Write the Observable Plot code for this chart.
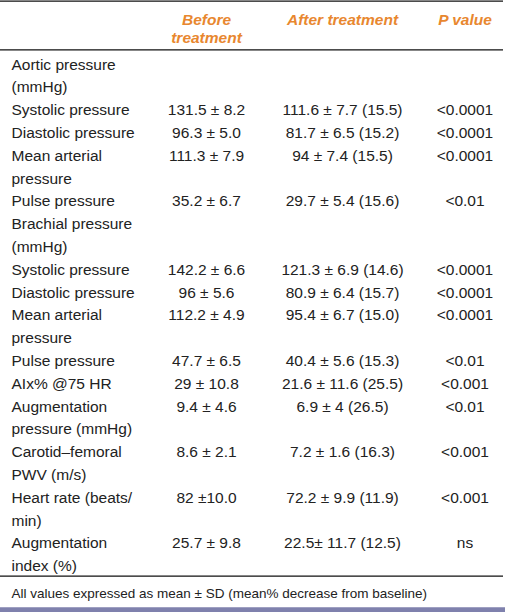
<!DOCTYPE html>
<html><head><meta charset="utf-8">
<script src="https://cdn.jsdelivr.net/npm/d3@7"></script>
<script src="https://cdn.jsdelivr.net/npm/@observablehq/plot@0.6"></script>
<style>html,body{margin:0;padding:0;background:#fff}</style>
</head><body><div id="chart"></div>
<script>
// ---- data ----
const headers = ["Before\ntreatment", "After treatment", "P value"];
const rowLabels = [
  "Aortic pressure\n(mmHg)",
  "Systolic pressure",
  "Diastolic pressure",
  "Mean arterial\npressure",
  "Pulse pressure",
  "Brachial pressure\n(mmHg)",
  "Systolic pressure",
  "Diastolic pressure",
  "Mean arterial\npressure",
  "Pulse pressure",
  "AIx% @75 HR",
  "Augmentation\npressure (mmHg)",
  "Carotid\u2013femoral\nPWV (m/s)",
  "Heart rate (beats/\nmin)",
  "Augmentation\nindex (%)"
];
const beforeValues = ["", "131.5 ± 8.2", "96.3 ± 5.0", "111.3 ± 7.9", "35.2 ± 6.7", "", "142.2 ± 6.6", "96 ± 5.6", "112.2 ± 4.9", "47.7 ± 6.5", "29 ± 10.8", "9.4 ± 4.6", "8.6 ± 2.1", "82 ±10.0", "25.7 ± 9.8"];
const afterValues = ["", "111.6 ± 7.7 (15.5)", "81.7 ± 6.5 (15.2)", "94 ± 7.4 (15.5)", "29.7 ± 5.4 (15.6)", "", "121.3 ± 6.9 (14.6)", "80.9 ± 6.4 (15.7)", "95.4 ± 6.7 (15.0)", "40.4 ± 5.6 (15.3)", "21.6 ± 11.6 (25.5)", "6.9 ± 4 (26.5)", "7.2 ± 1.6 (16.3)", "72.2 ± 9.9 (11.9)", "22.5± 11.7 (12.5)"];
const pValues = ["", "<0.0001", "<0.0001", "<0.0001", "<0.01", "", "<0.0001", "<0.0001", "<0.0001", "<0.01", "<0.001", "<0.01", "<0.001", "<0.001", "ns"];
const footnote = "All values expressed as mean ± SD (mean% decrease from baseline)";

// ---- layout (line units on the y scale, pixels on x) ----
const FONT = "'Liberation Sans', Arial, sans-serif";
const INK = "#222";
const ORANGE = "#e8872f";
const PURPLE = "#7f81ad";
const colX = {label: 11, before: 206, after: 342, p: 464.5};
const headerLines = [-1.952, -1.154];
const ruleTop = -3.0, ruleHead = -0.864, ruleBottom = 22.224;
const footLine = 23.158, barLine = 23.706;

// ---- build table cells ----
const labelCells = [];
const valueCells = [];
let line = 0;
rowLabels.forEach((lab, i) => {
  const parts = lab.split("\n");
  parts.forEach((t, k) => labelCells.push({line: line + k, text: t}));
  valueCells.push({line, col: "before", text: beforeValues[i]});
  valueCells.push({line, col: "after", text: afterValues[i]});
  valueCells.push({line, col: "p", text: pValues[i]});
  line += parts.length;
});
const headerCells = [];
["before", "after", "p"].forEach((c, i) => {
  headers[i].split("\n").forEach((t, k) => headerCells.push({col: c, y: headerLines[k], text: t}));
});

const chart = Plot.plot({
  width: 505,
  height: 612,
  margin: 0,
  style: {background: "#fff", fontFamily: FONT},
  x: {domain: [0, 505], range: [0, 505], axis: null},
  y: {domain: [0, 22], range: [69, 570.6], axis: null},
  marks: [
    Plot.ruleY([ruleTop, ruleHead, ruleBottom], {x1: 0, x2: 503, stroke: "#111", strokeWidth: 1.2}),
    Plot.ruleY([barLine], {stroke: PURPLE, strokeWidth: 5.5}),
    Plot.text(headerCells, {
      x: d => colX[d.col], y: "y", text: "text", lineAnchor: "bottom", textAnchor: "middle",
      fontSize: 15.5, fontWeight: "bold", fontStyle: "italic", fill: ORANGE
    }),
    Plot.text(labelCells, {
      x: () => colX.label, y: "line", text: "text", lineAnchor: "bottom", textAnchor: "start",
      fontSize: 15.5, fill: INK
    }),
    Plot.text(valueCells.filter(d => d.text), {
      x: d => colX[d.col], y: "line", text: "text", lineAnchor: "bottom", textAnchor: "middle",
      fontSize: 15.5, fill: INK
    }),
    Plot.text([footnote], {
      x: () => colX.label, y: () => footLine, text: d => d, lineAnchor: "bottom", textAnchor: "start",
      fontSize: 13.5, fill: INK
    })
  ]
});
document.getElementById("chart").appendChild(chart);
</script>
</body></html>
